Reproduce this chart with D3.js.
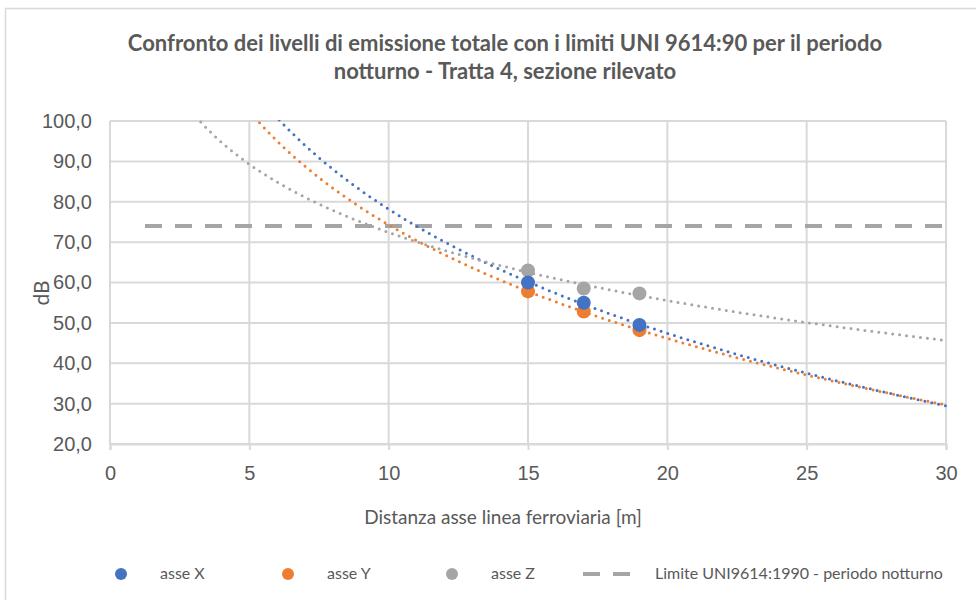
<!DOCTYPE html>
<html>
<head>
<meta charset="utf-8">
<script src="https://cdn.jsdelivr.net/npm/d3@7"></script>
<style>
  body { margin: 0; background: #fff; }
  svg { font-family: Lato, "Open Sans", sans-serif; }
</style>
</head>
<body>
<svg id="chart" width="976" height="600"></svg>
<script>
// measured points (distance in m, level in dB)
var distances = [15, 17, 19]
var asseX = [60.0, 55.0, 49.5]
var asseY = [57.8, 52.8, 48.2]
var asseZ = [63.0, 58.5, 57.3]
var limite = 74
var xTicks = [0, 5, 10, 15, 20, 25, 30]
var yTicks = [20, 30, 40, 50, 60, 70, 80, 90, 100]

var series = [
  { name: "asse X", values: asseX, color: "#4472C4" },
  { name: "asse Y", values: asseY, color: "#ED7D31" },
  { name: "asse Z", values: asseZ, color: "#A5A5A5" }
]

var svg = d3.select("#chart"),
    margin = {top: 121, right: 30, bottom: 156, left: 110},
    width = 976 - margin.left - margin.right,
    height = 600 - margin.top - margin.bottom

// outer frame
svg.append("rect")
  .attr("x", 5.5).attr("y", 8.5)
  .attr("width", 1000).attr("height", 1000)
  .attr("fill", "none").attr("stroke", "#d9d9d9").attr("stroke-width", 1.5)

var x = d3.scaleLinear().domain([0, 30]).range([0, 836])
var y = d3.scaleLinear().domain([20, 100]).range([323, 0])

var g = svg.append("g")
  .attr("transform", "translate(" + margin.left + "," + margin.top + ")")

svg.append("defs").append("clipPath").attr("id", "plot")
  .append("rect").attr("x", -2).attr("y", -1).attr("width", 840).attr("height", 326)

// gridlines
g.append("g").selectAll("line").data(yTicks).enter().append("line")
  .attr("x1", 0).attr("x2", x(30))
  .attr("y1", function(d) { return y(d) }).attr("y2", function(d) { return y(d) })
  .attr("stroke", "#d9d9d9").attr("stroke-width", 2)

g.append("g").selectAll("line").data(xTicks).enter().append("line")
  .attr("x1", function(d) { return x(d) }).attr("x2", function(d) { return x(d) })
  .attr("y1", 0).attr("y2", y(20))
  .attr("stroke", "#d9d9d9").attr("stroke-width", 2)

// x axis
var xAxis = g.append("g")
  .attr("transform", "translate(0," + y(20) + ")")
  .call(d3.axisBottom(x).tickValues(xTicks).tickSize(6).tickPadding(16))
xAxis.select(".domain").attr("stroke", "#d9d9d9").attr("stroke-width", 2)
xAxis.selectAll(".tick line").attr("stroke", "#d9d9d9").attr("stroke-width", 2)
xAxis.selectAll(".tick text").attr("fill", "#595959").style("font-size", "20px")

// y axis labels
var yAxis = g.append("g")
  .call(d3.axisLeft(y).tickValues(yTicks).tickSize(0).tickPadding(18)
    .tickFormat(function(d) { return d3.format(".1f")(d).replace(".", ",") }))
yAxis.select(".domain").remove()
yAxis.selectAll(".tick text").attr("fill", "#595959").style("font-size", "20px")

// titles
svg.append("text")
  .attr("x", 505).attr("y", 51)
  .attr("text-anchor", "middle").attr("fill", "#595959")
  .style("font-size", "22px").style("font-weight", "bold")
  .text("Confronto dei livelli di emissione totale con i limiti UNI 9614:90 per il periodo")
svg.append("text")
  .attr("x", 505).attr("y", 79)
  .attr("text-anchor", "middle").attr("fill", "#595959")
  .style("font-size", "22px").style("font-weight", "bold")
  .text("notturno - Tratta 4, sezione rilevato")

svg.append("text")
  .attr("x", 503).attr("y", 524)
  .attr("text-anchor", "middle").attr("fill", "#595959")
  .style("font-size", "19px")
  .text("Distanza asse linea ferroviaria [m]")

svg.append("text")
  .attr("transform", "translate(49,293) rotate(-90)")
  .attr("text-anchor", "middle").attr("fill", "#595959")
  .style("font-size", "21px")
  .text("dB")

var plot = g.append("g").attr("clip-path", "url(#plot)")

// limit line
plot.append("line")
  .attr("x1", x(0) + 35).attr("x2", x(30))
  .attr("y1", y(limite)).attr("y2", y(limite))
  .attr("stroke", "#A5A5A5").attr("stroke-width", 4)
  .attr("stroke-dasharray", "17,13")

// logarithmic trendlines fitted to the points
function logFit(xs, ys) {
  var lx = xs.map(Math.log)
  var mx = d3.mean(lx), my = d3.mean(ys)
  var sxy = d3.sum(lx, function(v, i) { return (v - mx) * (ys[i] - my) })
  var sxx = d3.sum(lx, function(v) { return (v - mx) * (v - mx) })
  var b = sxy / sxx
  var a = my - b * mx
  return function(t) { return a + b * Math.log(t) }
}

var line = d3.line()
  .x(function(d) { return x(d[0]) })
  .y(function(d) { return y(d[1]) })

series.forEach(function(s) {
  var f = logFit(distances, s.values)
  var pts = d3.range(0.5, 30.01, 0.1).map(function(t) { return [t, f(t)] })
  plot.append("path")
    .datum(pts)
    .attr("d", line)
    .attr("fill", "none")
    .attr("stroke", s.color)
    .attr("stroke-width", 3)
    .attr("stroke-linecap", "round")
    .attr("stroke-dasharray", "0,7")
})

// markers
series.slice().reverse().forEach(function(s) {
  g.selectAll(null)
    .data(s.values)
    .enter().append("circle")
    .attr("cx", function(d, i) { return x(distances[i]) })
    .attr("cy", function(d) { return y(d) })
    .attr("r", 7)
    .attr("fill", s.color)
})

// legend
var legend = svg.append("g").attr("transform", "translate(0,574)")
var legX = [121, 288, 452]
series.forEach(function(s, i) {
  legend.append("circle").attr("cx", legX[i]).attr("cy", 0).attr("r", 6).attr("fill", s.color)
  legend.append("text").attr("x", legX[i] + 39).attr("y", 5)
    .attr("fill", "#595959").style("font-size", "16px").text(s.name)
})
legend.append("line")
  .attr("x1", 583).attr("x2", 637).attr("y1", 0).attr("y2", 0)
  .attr("stroke", "#A5A5A5").attr("stroke-width", 4)
  .attr("stroke-dasharray", "17,13")
legend.append("text").attr("x", 655).attr("y", 5)
  .attr("fill", "#595959").style("font-size", "16px")
  .text("Limite UNI9614:1990 - periodo notturno")
</script>
</body>
</html>
